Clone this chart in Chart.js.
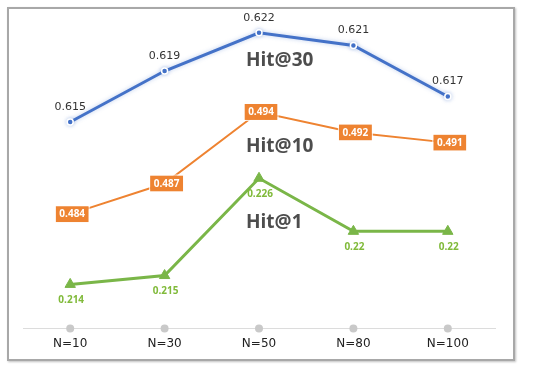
<!DOCTYPE html>
<html>
<head>
<meta charset="utf-8">
<script src="https://cdn.jsdelivr.net/npm/chart.js@4"></script>
<style>
  html, body { margin: 0; padding: 0; background: #fff; }
  #wrap { position: relative; width: 550px; height: 368px; }
  #frame {
    position: absolute; left: 7px; top: 7px; width: 504px; height: 350px;
    border: 2px solid #a8a8a8; box-shadow: 1px 1px 2px rgba(0,0,0,0.25);
    pointer-events: none;
  }
</style>
</head>
<body>
<div id="wrap">
  <canvas id="chart" width="550" height="368"></canvas>
  <div id="frame"></div>
</div>
<script>
// Data
const categories = ['N=10', 'N=30', 'N=50', 'N=80', 'N=100'];
const hit30 = [0.615, 0.619, 0.622, 0.621, 0.617];
const hit10 = [0.484, 0.487, 0.494, 0.492, 0.491];
const hit1 = [0.214, 0.215, 0.226, 0.22, 0.22];
const seriesNames = ['Hit@30', 'Hit@10', 'Hit@1'];

const BLUE = '#4472C8';
const ORANGE = '#EE8331';
const GREEN = '#7AB648';

// glow under the blue line
const glowPlugin = {
    id: 'glow',
    beforeDatasetDraw(chart, args) {
        if (args.index !== 0) return;
        const ctx = chart.ctx;
        ctx.save();
        ctx.shadowColor = 'rgba(68,114,200,0.35)';
        ctx.shadowBlur = 4;
    },
    afterDatasetDraw(chart, args) {
        if (args.index === 0) chart.ctx.restore();
    }
};

// grey dots on the x axis line
const tickDots = {
    id: 'tickDots',
    afterDraw(chart) {
        const ctx = chart.ctx;
        const x = chart.scales.x;
        const y = chart.chartArea.bottom;
        ctx.save();
        ctx.fillStyle = '#c9c9c9';
        categories.forEach((c, i) => {
            ctx.beginPath();
            ctx.arc(x.getPixelForValue(i), y, 4, 0, Math.PI * 2);
            ctx.fill();
        });
        ctx.restore();
    }
};

// value labels and series names
const valueLabels = {
    id: 'valueLabels',
    afterDatasetsDraw(chart) {
        const ctx = chart.ctx;
        ctx.save();
        ctx.textAlign = 'center';
        ctx.textBaseline = 'middle';

        // Hit@30: plain dark text above
        ctx.font = '11px "DejaVu Sans"';
        ctx.fillStyle = '#333';
        chart.getDatasetMeta(0).data.forEach((p, i) => {
            ctx.fillText(String(hit30[i]), p.x, p.y - 15);
        });

        // Hit@10: orange boxes on the point
        ctx.font = 'bold 10px "Open Sans"';
        chart.getDatasetMeta(1).data.forEach((p, i) => {
            const w = 33, h = 16;
            const cx = p.x + 2;
            ctx.fillStyle = ORANGE;
            ctx.fillRect(cx - w / 2, p.y - h / 2, w, h);
            ctx.strokeStyle = 'rgba(255,255,255,0.8)';
            ctx.lineWidth = 1;
            ctx.strokeRect(cx - w / 2 - 0.5, p.y - h / 2 - 0.5, w + 1, h + 1);
            ctx.fillStyle = '#fff';
            ctx.fillText(String(hit10[i]), cx, p.y + 0.5);
        });

        // Hit@1: green text below
        ctx.font = 'bold 10px "Open Sans"';
        ctx.fillStyle = '#80BA3A';
        chart.getDatasetMeta(2).data.forEach((p, i) => {
            ctx.fillText(String(hit1[i]), p.x + 1, p.y + 16);
        });

        // series names near the middle category
        const area = chart.chartArea;
        const nx = chart.scales.x.getPixelForValue(2) - 13;
        ctx.textAlign = 'left';
        ctx.font = 'bold 19px "Open Sans"';
        ctx.fillStyle = '#4d4d4d';
        ctx.fillText(seriesNames[0], nx, area.top + 41);
        ctx.fillText(seriesNames[1], nx, area.top + 127);
        ctx.fillText(seriesNames[2], nx, area.top + 203);
        ctx.restore();
    }
};

new Chart(document.getElementById('chart').getContext('2d'), {
    type: 'line',
    data: {
        labels: categories,
        datasets: [{
            label: seriesNames[0],
            data: hit30,
            yAxisID: 'y30',
            borderColor: BLUE,
            borderWidth: 3,
            pointRadius: 3,
            pointBackgroundColor: BLUE,
            pointBorderColor: '#fff',
            pointBorderWidth: 1.5,
            tension: 0,
        }, {
            label: seriesNames[1],
            data: hit10,
            yAxisID: 'y10',
            borderColor: ORANGE,
            borderWidth: 2,
            pointRadius: 0,
            tension: 0,
        }, {
            label: seriesNames[2],
            data: hit1,
            yAxisID: 'y1',
            borderColor: GREEN,
            borderWidth: 3,
            pointStyle: 'triangle',
            pointRadius: 6,
            pointBackgroundColor: GREEN,
            pointBorderColor: GREEN,
            pointBorderWidth: 1,
            tension: 0,
        }],
    },
    options: {
        responsive: false,
        animation: false,
        layout: { padding: { left: 23, right: 55, top: 20, bottom: 17 } },
        plugins: {
            legend: { display: false },
            tooltip: { enabled: false },
        },
        scales: {
            x: {
                offset: true,
                grid: { display: false },
                border: { display: true, color: '#dcdcdc', width: 1 },
                ticks: { color: '#222', padding: 0, font: { family: 'DejaVu Sans', size: 12 } },
            },
            y30: { display: false, min: 0.5988, max: 0.6230 },
            y10: { display: false, min: 0.4728, max: 0.5030 },
            y1: { display: false, min: 0.2090, max: 0.2439 },
        },
    },
    plugins: [glowPlugin, tickDots, valueLabels],
});
</script>
</body>
</html>
